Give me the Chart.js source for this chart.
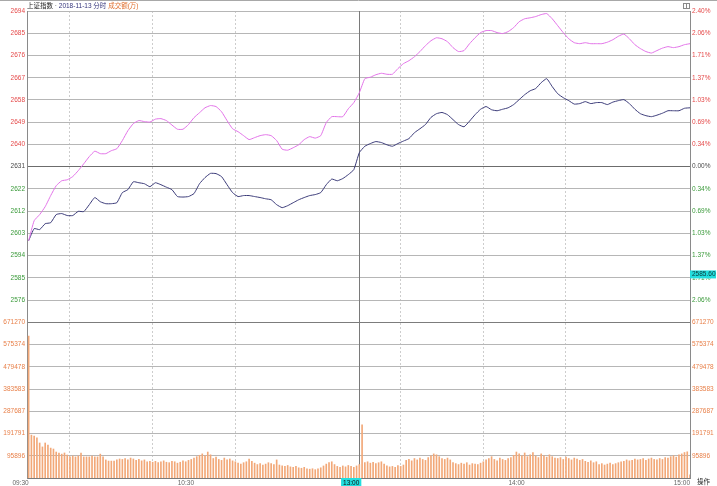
<!DOCTYPE html>
<html>
<head>
<meta charset="utf-8">
<script src="https://cdn.jsdelivr.net/npm/chart.js@4.4.0/dist/chart.umd.min.js"></script>
<style>
  html, body { margin: 0; padding: 0; background: #fff; }
  #wrap { width: 717px; height: 486px; position: relative; }
</style>
</head>
<body>
<div id="wrap"><canvas id="intraday"></canvas></div>
<script>
// 上证指数 2018-11-13 分时
const prevClose = 2630.52;
const pctStep = 0.024 / 7;      // one grid row = 0.343%
const volStep = 95896;          // one grid row in the volume pane
const cursorPrice = 2585.60;

const priceTicks = ['2694','2685','2676','2667','2658','2649','2640','2631','2622','2612','2603','2594','2585','2576'];
const pctTicks = ['2.40%','2.06%','1.71%','1.37%','1.03%','0.69%','0.34%','0.00%','0.34%','0.69%','1.03%','1.37%','1.71%','2.06%'];
const volTicks = ['671270','575374','479478','383583','287687','191791','95896'];
const timeTicks = { 0: '09:30', 60: '10:30', 120: '13:00', 180: '14:00', 240: '15:00' };

// index line, one value every 2 minutes (0 = 09:30, 60 = 11:30/13:00, 120 = 15:00)
const indexLine = [
  2600.5,2605.4,2605.0,2607.4,2607.8,2611.1,2611.5,2610.7,2610.7,2612.4,
  2612.3,2615.1,2618.0,2616.3,2615.5,2615.5,2615.9,2620.0,2621.2,2624.4,
  2624.0,2623.6,2622.4,2624.0,2623.2,2622.2,2621.2,2618.4,2618.2,2618.4,
  2619.6,2623.6,2626.1,2627.8,2627.7,2626.5,2623.2,2620.0,2618.4,2618.8,
  2618.8,2618.4,2618.0,2617.5,2617.1,2615.1,2613.9,2614.7,2615.9,2617.1,
  2618.0,2618.8,2619.2,2620.0,2623.2,2625.5,2624.8,2625.7,2627.3,2629.3,
  2636.2,2638.8,2639.9,2640.7,2640.3,2639.4,2638.8,2639.9,2640.9,2641.9,
  2644.3,2645.9,2647.6,2650.5,2652.0,2652.5,2651.6,2649.6,2647.6,2646.7,
  2649.0,2651.6,2653.8,2654.9,2653.6,2653.2,2653.8,2654.4,2655.7,2657.7,
  2659.7,2661.3,2662.2,2664.6,2666.2,2663.0,2660.1,2658.5,2657.3,2655.9,
  2656.1,2656.9,2656.1,2656.5,2656.5,2655.7,2656.7,2657.3,2657.7,2656.1,
  2653.8,2652.0,2651.2,2650.8,2651.4,2652.2,2653.2,2653.2,2653.2,2654.2,
  2654.4
];

// leading (unweighted) line, same sampling
const leadLine = [
  2600.5,2608.6,2611.1,2614.3,2618.8,2622.8,2624.8,2625.2,2626.5,2628.9,
  2631.7,2634.6,2636.8,2635.8,2635.8,2637.0,2637.8,2641.1,2645.1,2648.0,
  2649.2,2648.8,2648.6,2649.8,2650.0,2649.2,2647.4,2645.7,2645.7,2647.6,
  2650.4,2652.4,2654.4,2655.3,2654.9,2652.8,2649.2,2645.9,2644.7,2643.1,
  2641.5,2642.3,2643.1,2643.5,2643.1,2641.1,2637.6,2637.2,2638.2,2639.4,
  2641.5,2642.7,2642.1,2643.1,2648.4,2650.8,2650.8,2650.8,2654.0,2656.5,
  2660.5,2666.2,2666.8,2667.8,2668.4,2668.0,2668.0,2670.3,2672.3,2673.5,
  2675.1,2677.2,2679.6,2681.6,2682.8,2682.4,2681.2,2678.8,2677.2,2677.6,
  2680.4,2682.8,2684.9,2685.7,2685.7,2684.9,2684.5,2685.3,2686.9,2689.3,
  2690.5,2690.9,2691.4,2692.2,2692.6,2690.5,2687.7,2684.9,2682.4,2680.8,
  2680.4,2680.8,2680.4,2680.4,2680.4,2681.0,2682.0,2683.4,2684.3,2682.4,
  2680.0,2678.4,2677.2,2676.6,2677.6,2678.6,2679.2,2678.8,2679.2,2680.0,
  2680.4
];

// 成交额(万), one bar per minute
const volume = [
  612000,
  185000,181000,173000,151000,134000,151000,142000,129000,125000,112000,
  108000,103000,108000,99000,91000,95000,91000,95000,108000,91000,
  91000,91000,95000,91000,91000,103000,91000,78000,73000,73000,
  73000,78000,82000,
  80000,84000,78000,86000,82000,76000,80000,74000,78000,70000,72000,
  68000,72000,66000,70000,74000,68000,66000,72000,70000,64000,68000,74000,70000,76000,80000,
  86000,92000,98000,104000,96000,112000,100000,
  84000,90000,80000,76000,86000,78000,82000,74000,70000,
  64000,60000,66000,70000,82000,72000,64000,58000,62000,56000,60000,66000,62000,58000,
  78000,
  56000,52000,50000,54000,48000,46000,50000,44000,42000,46000,40000,38000,40000,36000,40000,44000,
  52000,60000,66000,70000,58000,
  50000,46000,52000,48000,54000,50000,46000,52000,
  58000,
  229000,
  66000,70000,64000,68000,62000,66000,70000,60000,
  52000,48000,50000,46000,54000,50000,56000,
  76000,80000,74000,84000,78000,86000,80000,76000,88000,96000,104000,100000,92000,84000,80000,86000,78000,
  66000,62000,58000,64000,60000,66000,56000,62000,60000,58000,64000,70000,
  78000,84000,92000,80000,74000,86000,80000,76000,84000,88000,
  98000,112000,104000,96000,108000,92000,100000,110000,94000,88000,104000,96000,90000,100000,
  92000,86000,84000,88000,80000,90000,84000,78000,86000,82000,76000,80000,72000,68000,74000,66000,70000,
  58000,62000,56000,60000,64000,58000,62000,66000,70000,72000,78000,74000,76000,
  82000,78000,80000,84000,76000,82000,86000,80000,78000,84000,80000,88000,86000,
  92000,96000,90000,100000,104000,110000,113000,
  14000
];

const ROWS = 21;
const step = prevClose * pctStep;
const pMax = prevClose + 7 * step;
const pMin = prevClose - 14 * step;

const RED = '#e54a4a', GREEN = '#3a9a3a', ORANGE = '#e8804a', DARK = '#4a4a4a';
const FONT = { family: '"Liberation Sans", "Noto Sans CJK SC", sans-serif', size: 6.5 };

function rowOf(ctx) { return ROWS - ctx.index; }
function rowColor(r) {
  if (r < 7) return RED;
  if (r === 7) return DARK;
  if (r <= 13) return GREEN;
  return ORANGE;
}
function rowTicks(scale) {
  scale.ticks = [];
  for (let r = ROWS; r >= 0; r--) scale.ticks.push({ value: pMax - r * step });
}

const extras = {
  id: 'extras',
  beforeDatasetsDraw(chart) {
    const { ctx, chartArea: a, scales: { x } } = chart;
    const px = Math.round(x.getPixelForValue(120)) + 0.5;
    ctx.save();
    ctx.strokeStyle = '#7a7a7a';
    ctx.lineWidth = 1;
    ctx.beginPath();
    ctx.moveTo(px, a.top);
    ctx.lineTo(px, a.bottom);
    ctx.stroke();
    ctx.restore();
  },
  afterDraw(chart) {
    const { ctx, chartArea: a, scales: { yP } } = chart;
    ctx.save();
    // top frame line
    ctx.strokeStyle = '#a8a8a8';
    ctx.beginPath(); ctx.moveTo(0, 0.5); ctx.lineTo(717, 0.5); ctx.stroke();

    // title
    ctx.font = `${FONT.size}px ${FONT.family}`;
    ctx.textBaseline = 'middle';
    let tx = a.left;
    const parts = [['上证指数', '#222'], [' · ', '#777'], ['2018-11-13 分时', '#33337a'], [' 成交额(万)', '#e07030']];
    parts.forEach(([t, c]) => { ctx.fillStyle = c; ctx.fillText(t, tx, 6.5); tx += ctx.measureText(t).width; });

    // small icon top right
    ctx.strokeStyle = '#8a8a8a';
    ctx.strokeRect(683.5, 3.5, 6, 5);
    ctx.beginPath(); ctx.moveTo(686.5, 3.5); ctx.lineTo(686.5, 8.5); ctx.stroke();

    // cursor price box
    const py = yP.getPixelForValue(cursorPrice);
    ctx.fillStyle = '#22dede';
    ctx.fillRect(a.right, py - 7, 26, 8);
    ctx.fillStyle = '#0c3a3a';
    ctx.textAlign = 'left';
    ctx.fillText(cursorPrice.toFixed(2), a.right + 2, py - 3);

    // 操作
    ctx.fillStyle = '#222';
    ctx.fillText('操作', 697, 482);
    ctx.restore();
  }
};

new Chart(document.getElementById('intraday'), {
  type: 'bar',
  data: {
    datasets: [
      {
        type: 'line',
        label: 'lead',
        data: leadLine.map((v, i) => ({ x: i * 2, y: v })),
        yAxisID: 'yP',
        borderColor: '#e272e8',
        borderWidth: 1,
        pointRadius: 0,
        tension: 0.15
      },
      {
        type: 'line',
        label: '上证指数',
        data: indexLine.map((v, i) => ({ x: i * 2, y: v })),
        yAxisID: 'yP',
        borderColor: '#3a3a78',
        borderWidth: 1,
        pointRadius: 0,
        tension: 0.15
      },
      {
        label: '成交额',
        data: volume.map((v, i) => ({ x: i, y: v })),
        yAxisID: 'yV',
        backgroundColor: '#f2a878',
        barThickness: 1,
        grouped: false
      }
    ]
  },
  options: {
    responsive: true,
    maintainAspectRatio: false,
    animation: false,
    layout: { padding: { top: 11 } },
    plugins: { legend: { display: false }, tooltip: { enabled: false } },
    scales: {
      x: {
        type: 'linear',
        min: -0.6,
        max: 240,
        offset: false,
        afterBuildTicks: s => { s.ticks = [0, 30, 60, 90, 120, 150, 180, 210, 240].map(v => ({ value: v })); },
        afterFit: s => { s.height = 8; },
        grid: {
          drawTicks: false,
          color: ctx => (ctx.tick && [0, 120, 240].includes(ctx.tick.value)) ? 'rgba(0,0,0,0)' : '#cdcdcd'
        },
        border: { color: '#7a7a7a', dash: [2, 2] },
        ticks: {
          autoSkip: false,
          maxRotation: 0,
          align: 'end',
          padding: 1,
          font: FONT,
          color: ctx => ctx.tick && ctx.tick.value === 120 ? '#111' : '#666',
          showLabelBackdrop: ctx => ctx.tick && ctx.tick.value === 120,
          backdropColor: '#22dede',
          backdropPadding: { left: 2, right: 2, top: 1, bottom: 1 },
          callback: v => timeTicks[v] || ''
        }
      },
      yP: {
        type: 'linear',
        position: 'left',
        min: pMin,
        max: pMax,
        afterBuildTicks: rowTicks,
        afterFit: s => { s.width = 27; },
        grid: {
          drawTicks: false,
          color: ctx => {
            const r = rowOf(ctx);
            if (r === 21) return 'rgba(0,0,0,0)';
            if (r === 7) return '#6c6c6c';
            if (r === 14) return '#7c7c7c';
            return '#b6b6b6';
          }
        },
        border: { color: '#8a8a8a' },
        ticks: {
          autoSkip: false,
          padding: 2,
          font: FONT,
          color: ctx => rowColor(rowOf(ctx)),
          callback: (v, i) => {
            const r = ROWS - i;
            if (r <= 13) return priceTicks[r];
            if (r <= 20) return volTicks[r - 14];
            return '';
          }
        }
      },
      yR: {
        type: 'linear',
        position: 'right',
        min: pMin,
        max: pMax,
        afterBuildTicks: rowTicks,
        afterFit: s => { s.width = 27; },
        grid: { display: false, drawTicks: false },
        border: { color: '#8a8a8a' },
        ticks: {
          autoSkip: false,
          padding: 2,
          font: FONT,
          color: ctx => rowColor(rowOf(ctx)),
          callback: (v, i) => {
            const r = ROWS - i;
            if (r <= 13) return pctTicks[r];
            if (r <= 20) return volTicks[r - 14];
            return '';
          }
        }
      },
      yV: {
        type: 'linear',
        display: false,
        min: 0,
        max: ROWS * volStep
      }
    }
  },
  plugins: [extras]
});
</script>
</body>
</html>
